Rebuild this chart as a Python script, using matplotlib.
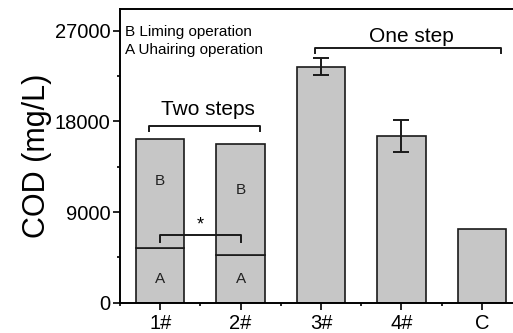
import numpy as np
import matplotlib.pyplot as plt
from matplotlib.ticker import MultipleLocator

plt.rcParams['font.family'] = ['Liberation Sans', 'DejaVu Sans']

categories = ['1#', '2#', '3#', '4#', 'C']
# two-step samples: A (unhairing) + B (liming)
part_a = [5400, 4730]
part_b = [10810, 10990]
# one-step samples and control
single = [23420, 16570, 7280]
single_err = [830, 1570, 0]

x = np.arange(1, len(categories) + 1)
fill = '#c6c6c6'
edge = '#1a1a1a'

fig = plt.figure(figsize=(5.13, 3.33), dpi=100)
ax = fig.add_axes([0.2339, 0.091, 0.7836, 0.882])

ax.bar(x[:2], part_a, width=0.6, color=fill, edgecolor=edge, linewidth=1.2)
ax.bar(x[:2], part_b, width=0.6, bottom=part_a, color=fill, edgecolor=edge, linewidth=1.2)
ax.bar(x[2:], single, width=0.6, color=fill, edgecolor=edge, linewidth=1.2)
ax.errorbar(x[2:4], single[:2], yerr=single_err[:2], fmt='none', ecolor=edge,
            elinewidth=1.4, capsize=6, capthick=1.4)

for i in range(2):
    ax.text(x[i], 2350, 'A', ha='center', va='center', fontsize=11, color='#222222')
ax.text(x[0], 12100, 'B', ha='center', va='center', fontsize=11, color='#222222')
ax.text(x[1], 11180, 'B', ha='center', va='center', fontsize=11, color='#222222')

# brackets
ax.plot([0.86, 0.86, 2.24, 2.24], [17050, 17550, 17550, 17050], color=edge, lw=1.4)
ax.text(1.6, 18650, 'Two steps', ha='center', va='baseline', fontsize=15)
ax.plot([2.93, 2.93, 5.245, 5.245], [24750, 25250, 25250, 24750], color=edge, lw=1.4)
ax.text(4.13, 25850, 'One step', ha='center', va='baseline', fontsize=15)
ax.plot([1, 1, 2, 2], [6050, 6720, 6720, 6050], color=edge, lw=1.4)
ax.text(1.5, 7700, '*', ha='center', va='center', fontsize=13)

ax.text(0.012, 0.922, 'B Liming operation', transform=ax.transAxes,
        ha='left', va='center', fontsize=11)
ax.text(0.012, 0.860, 'A Uhairing operation', transform=ax.transAxes,
        ha='left', va='center', fontsize=11)

ax.set_xlim(0.5, 5.5)
ax.set_ylim(0, 29150)
ax.set_xticks(x)
ax.set_xticklabels(categories)
ax.xaxis.set_minor_locator(MultipleLocator(0.5))
ax.set_yticks([0, 9000, 18000, 27000])
ax.yaxis.set_minor_locator(MultipleLocator(4500))
ax.tick_params(which='major', direction='out', length=5, width=1.2, labelsize=14.5, pad=2)
ax.tick_params(axis='x', which='major', pad=3)
ax.tick_params(which='minor', direction='out', length=2.5, width=1.2)
for s in ax.spines.values():
    s.set_linewidth(1.4)
ax.set_ylabel('COD (mg/L)', fontsize=22, labelpad=2)

fig.savefig('out.png', dpi=100)
